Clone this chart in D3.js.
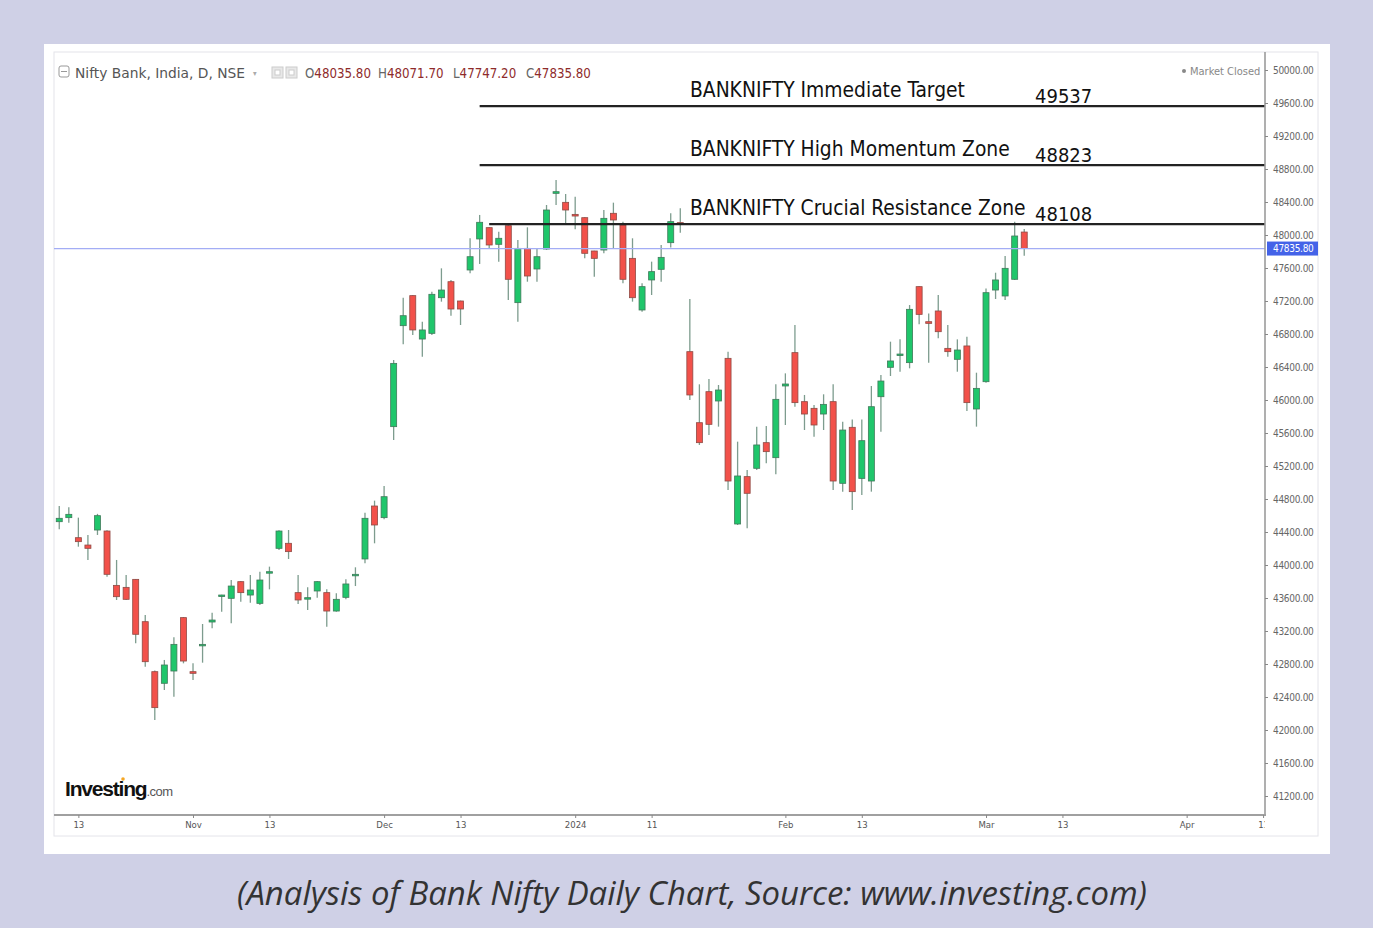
<!DOCTYPE html>
<html><head><meta charset="utf-8">
<script src="https://cdn.jsdelivr.net/npm/d3@7"></script>
<style>
html,body{margin:0;padding:0;background:#cfd0e6;}
svg{display:block;}
</style></head><body>
<svg id="c" width="1373" height="928"></svg>
<script>
// ---------- DATA ----------
const dates = [
 "2023-10-11","2023-10-12","2023-10-13","2023-10-16","2023-10-17","2023-10-18","2023-10-19","2023-10-20","2023-10-23","2023-10-25","2023-10-26","2023-10-27","2023-10-30","2023-10-31",
 "2023-11-01","2023-11-02","2023-11-03","2023-11-06","2023-11-07","2023-11-08","2023-11-09","2023-11-10","2023-11-13","2023-11-15","2023-11-16","2023-11-17","2023-11-20","2023-11-21","2023-11-22","2023-11-23","2023-11-24","2023-11-28","2023-11-29","2023-11-30",
 "2023-12-01","2023-12-04","2023-12-05","2023-12-06","2023-12-07","2023-12-08","2023-12-11","2023-12-12","2023-12-13","2023-12-14","2023-12-15","2023-12-18","2023-12-19","2023-12-20","2023-12-21","2023-12-22","2023-12-26","2023-12-27","2023-12-28","2023-12-29",
 "2024-01-01","2024-01-02","2024-01-03","2024-01-04","2024-01-05","2024-01-08","2024-01-09","2024-01-10","2024-01-11","2024-01-12","2024-01-15","2024-01-16","2024-01-17","2024-01-18","2024-01-19","2024-01-20","2024-01-23","2024-01-24","2024-01-25","2024-01-29","2024-01-30","2024-01-31",
 "2024-02-01","2024-02-02","2024-02-05","2024-02-06","2024-02-07","2024-02-08","2024-02-09","2024-02-12","2024-02-13","2024-02-14","2024-02-15","2024-02-16","2024-02-19","2024-02-20","2024-02-21","2024-02-22","2024-02-23","2024-02-26","2024-02-27","2024-02-28","2024-02-29",
 "2024-03-01","2024-03-04","2024-03-05","2024-03-06","2024-03-07"
];
const futureDates = [
 "2024-03-08","2024-03-11","2024-03-12","2024-03-13","2024-03-14","2024-03-15","2024-03-18","2024-03-19","2024-03-20","2024-03-21","2024-03-22","2024-03-25","2024-03-26","2024-03-27","2024-03-28","2024-03-29",
 "2024-04-01","2024-04-02","2024-04-03","2024-04-04","2024-04-05","2024-04-08","2024-04-09","2024-04-10","2024-04-11"
];
const open = [44525,44574,44331,44242,44424,44412,43753,43729,43826,43313,42707,42566,42715,43362,42707,43022,43309,43620,43596,43798,43636,43535,43903,44202,44263,43665,43588,43685,43665,43442,43608,43871,44073,44715,44574,
 45677,46901,47265,46739,46808,47240,47434,47200,47576,47952,48089,47887,48113,47180,47838,47588,47830,48505,48396,48250,48210,47806,47818,48263,48121,47717,47091,47455,47584,47907,48150,
 46586,45725,46101,45988,46505,44497,45071,45172,45483,45301,46170,46574,45980,45899,45830,45980,44990,45669,45050,45018,46040,46396,46541,46453,47374,46949,47079,46626,46493,46655,45891,46222,47333,47261,47463,48035.8];
const high = [44715,44699,44574,44364,44620,44420,44061,43879,43830,43394,42720,42849,43123,43370,42808,43285,43422,43640,43818,43805,43879,43919,43980,44420,44424,43879,43729,43805,43705,43657,43826,43972,44634,44780,44958,
 46485,47240,47270,46950,47313,47596,47455,47205,47960,48243,48095,48040,48141,47940,48093,47838,48364,48667,48497,48465,48215,47810,48303,48392,48162,47960,47414,47677,47879,48263,48323,
 47224,46190,46255,46182,46586,45495,45151,45677,45685,46190,46323,46909,46061,45939,46069,46190,45737,45765,45765,46170,46303,46707,46735,47151,47380,47050,47273,46909,46735,46768,46331,47353,47543,47745,48160,48071.7];
const low = [44432,44513,44222,44061,44364,43859,43576,43576,43051,42768,42121,42485,42404,42808,42606,42816,43232,43434,43293,43556,43543,43515,43705,44182,44073,43527,43455,43604,43253,43434,43584,43745,44020,44263,44554,
 45515,46675,46788,46525,46788,47192,47022,46909,47535,47649,47838,47677,47212,46950,47434,47434,47818,48364,48121,48069,47717,47495,47778,47838,47414,47192,47071,47273,47434,47850,48028,
 46000,45455,45576,45677,44909,44485,44444,45151,45232,45099,45697,45919,45636,45556,45636,44909,44889,44667,44848,44889,45616,46291,46343,46384,46917,46453,46747,46525,46343,45867,45677,46210,47224,47212,47455,47747.2];
const close = [44566,44614,44283,44202,44598,43887,43616,43584,43160,42828,42271,42788,43038,42836,42687,43038,43333,43636,43745,43665,43697,43818,43919,44412,44162,43576,43604,43798,43442,43584,43770,43887,44566,44485,44828,
 46444,47022,46849,46849,47281,47333,47103,47103,47737,48154,47879,47960,47463,47838,47503,47737,48303,48525,48303,48230,47778,47717,48202,48182,47463,47240,47374,47556,47729,48162,48130,
 46061,45483,45705,46121,45018,45079,44869,45455,45374,46008,46194,45968,45830,45697,45947,45018,45636,44889,45507,45919,46230,46473,46557,47099,47038,46929,46828,46586,46606,45968,46141,47301,47455,47596,47988,47835.8];

const yTicks = [50000,49600,49200,48800,48400,48000,47600,47200,46800,46400,46000,45600,45200,44800,44400,44000,43600,43200,42800,42400,42000,41600,41200];
const xTickLabels = ["13","Nov","13","Dec","13","2024","11","Feb","13","Mar","13","Apr","11"];
const xTickDates  = ["2023-10-13","2023-11-01","2023-11-13","2023-12-01","2023-12-13","2024-01-01","2024-01-11","2024-02-01","2024-02-13","2024-03-01","2024-03-13","2024-04-01","2024-04-11"];

const levelLabels = ["BANKNIFTY Immediate Target","BANKNIFTY High Momentum Zone","BANKNIFTY Crucial Resistance Zone"];
const levelValues = [49537,48823,48108];
const levelStart  = ["2023-12-15","2023-12-15","2023-12-18"];

const header = {name:"Nifty Bank, India, D, NSE", o:"48035.80", h:"48071.70", l:"47747.20", c:"47835.80"};
const lastPrice = 47835.80;
const caption = "(Analysis of Bank Nifty Daily Chart, Source: www.investing.com)";

// ---------- LAYOUT ----------
const svg = d3.select("#c");
const P = {l:54, r:1265, t:52, b:815};
const allDates = dates.concat(futureDates);
const idx = new Map(allDates.map((d,i)=>[d,i]));
const x = d3.scaleLinear().domain([-0.55, 126.2]).range([P.l, P.r]);
const y = d3.scaleLinear().domain([41200, 50000]).range([796, 70]);
const cf = "DejaVu Sans Condensed, DejaVu Sans";

// card
svg.append("rect").attr("x",44).attr("y",44).attr("width",1286).attr("height",810).attr("fill","#fff");
svg.append("rect").attr("x",P.l).attr("y",P.t).attr("width",1318-P.l).attr("height",836-P.t)
  .attr("fill","#fff").attr("stroke","#e4e4ea").attr("stroke-width",1);

const defs = svg.append("defs");
defs.append("clipPath").attr("id","plotclip").append("rect")
  .attr("x",P.l).attr("y",P.t).attr("width",P.r-P.l).attr("height",P.b-P.t);
defs.append("clipPath").attr("id","xclip").append("rect")
  .attr("x",P.l).attr("y",-2).attr("width",P.r-P.l).attr("height",30);

// candles
const data = dates.map((d,i)=>({d, o:open[i], h:high[i], l:low[i], c:close[i]}));
const g = svg.append("g").attr("clip-path","url(#plotclip)");
const bw = 6;
g.selectAll("line.w").data(data).join("line")
  .attr("x1",d=>x(idx.get(d.d))).attr("x2",d=>x(idx.get(d.d)))
  .attr("y1",d=>y(d.h)).attr("y2",d=>y(d.l))
  .attr("stroke","#7d9c8e").attr("stroke-width",1.3);
g.selectAll("rect.b").data(data).join("rect")
  .attr("x",d=>x(idx.get(d.d))-bw/2)
  .attr("y",d=>y(Math.max(d.o,d.c)))
  .attr("width",bw)
  .attr("height",d=>Math.max(1.5, Math.abs(y(d.o)-y(d.c))))
  .attr("fill",d=>d.c>=d.o?"#1fc66b":"#f2514a")
  .attr("stroke",d=>d.c>=d.o?"#3f7a5a":"#8f4a44").attr("stroke-width",0.8);

// last price line
svg.append("line").attr("x1",P.l).attr("x2",P.r).attr("y1",y(lastPrice)).attr("y2",y(lastPrice))
  .attr("stroke","#a3adf5").attr("stroke-width",1.2);

// level lines & labels
levelValues.forEach((v,i)=>{
  svg.append("line").attr("x1",x(idx.get(levelStart[i]))).attr("x2",P.r)
    .attr("y1",y(v)-2).attr("y2",y(v)-2).attr("stroke","#222").attr("stroke-width",2.2);
  svg.append("text").attr("x",690).attr("y",y(v)-11)
    .attr("font-family",cf).attr("font-size",20.8).attr("fill","#111")
    .text(levelLabels[i]);
  svg.append("text").attr("x",1035).attr("y",y(v)-5)
    .attr("font-family",cf).attr("font-size",20).attr("fill","#111")
    .text(v);
});

// axes frame
svg.append("line").attr("x1",P.r).attr("x2",P.r).attr("y1",P.t).attr("y2",P.b+1).attr("stroke","#9b9b9b").attr("stroke-width",1.6);
svg.append("line").attr("x1",P.l).attr("x2",P.r+1).attr("y1",P.b).attr("y2",P.b).attr("stroke","#a0a0a0").attr("stroke-width",2);

// right axis
const ya = d3.axisRight(y).tickValues(yTicks).tickSize(3).tickFormat(d3.format(".2f"));
const yag = svg.append("g").attr("transform",`translate(${P.r},0)`).call(ya);
yag.select(".domain").remove();
yag.selectAll(".tick line").attr("stroke","#888");
yag.selectAll(".tick text").attr("x",8).attr("font-family",cf)
  .attr("font-size",10).attr("fill","#666").attr("letter-spacing",-0.3);

// last price badge
const lp = svg.append("g").attr("transform",`translate(${P.r+1},${y(lastPrice)})`);
lp.append("rect").attr("x",1).attr("y",-7).attr("width",51).attr("height",14).attr("fill","#4463e8");
lp.append("text").attr("x",7).attr("y",3.5).attr("font-family",cf)
  .attr("font-size",10).attr("fill","#fff").attr("letter-spacing",-0.3).text(d3.format(".2f")(lastPrice));

// bottom axis
const xa = d3.axisBottom(x).tickValues(xTickDates.map(d=>idx.get(d))).tickSize(3)
  .tickFormat((d,i)=>xTickLabels[i]);
const xag = svg.append("g").attr("transform",`translate(0,${P.b})`).call(xa);
xag.attr("clip-path","url(#xclip)");
xag.select(".domain").remove();
xag.selectAll(".tick line").attr("stroke","#888");
xag.selectAll(".tick text").attr("y",6).attr("font-family",cf)
  .attr("font-size",9.5).attr("fill","#555");

// header
svg.append("rect").attr("x",59).attr("y",66).attr("width",10).attr("height",11).attr("rx",2)
  .attr("fill","none").attr("stroke","#999").attr("stroke-width",1);
svg.append("line").attr("x1",61).attr("x2",67).attr("y1",71.5).attr("y2",71.5).attr("stroke","#999");
svg.append("text").attr("x",75).attr("y",78).attr("font-family","DejaVu Sans").attr("font-size",13.8).attr("fill","#555").text(header.name);
svg.append("text").attr("x",253).attr("y",76).attr("font-family",cf).attr("font-size",8).attr("fill","#aaa").text("▾");
[272,286].forEach(px=>{
  svg.append("rect").attr("x",px).attr("y",67).attr("width",11).attr("height",11).attr("fill","#e8e8e8").attr("stroke","#ccc");
  svg.append("rect").attr("x",px+3).attr("y",70).attr("width",5).attr("height",5).attr("fill","#fff").attr("stroke","#ccc");
});
const ohlc = [["O",header.o,305],["H",header.h,378],["L",header.l,453],["C",header.c,526]];
ohlc.forEach(([k,v,px])=>{
  const t = svg.append("text").attr("x",px).attr("y",78).attr("font-family",cf).attr("font-size",13.2);
  t.append("tspan").attr("fill","#666").text(k);
  t.append("tspan").attr("fill","#8e2b2b").text(v);
});
svg.append("circle").attr("cx",1184).attr("cy",71).attr("r",2).attr("fill","#888");
svg.append("text").attr("x",1190).attr("y",75).attr("font-family",cf).attr("font-size",11).attr("fill","#888").text("Market Closed");

// logo
const logo = svg.append("text").attr("x",65).attr("y",796).attr("font-family","Liberation Sans, Arial").attr("font-weight","bold");
logo.append("tspan").attr("font-size",21).attr("fill","#111").attr("letter-spacing",-1.2).text("Investing");
logo.append("tspan").attr("font-size",13).attr("fill","#555").attr("font-weight","normal").attr("letter-spacing",-0.5).text(".com");
svg.append("circle").attr("cx",123).attr("cy",779).attr("r",1.8).attr("fill","#f5a623");

// caption
const cap = svg.append("text").attr("x",692).attr("y",905).attr("text-anchor","middle")
  .attr("font-family","Open Sans, Lato, sans-serif").attr("font-style","italic").attr("font-size",28).attr("fill","#333")
  .text(caption);
const w0 = cap.node().getComputedTextLength();
cap.attr("font-size", (28 * 910 / w0).toFixed(2));
</script>
</body></html>
